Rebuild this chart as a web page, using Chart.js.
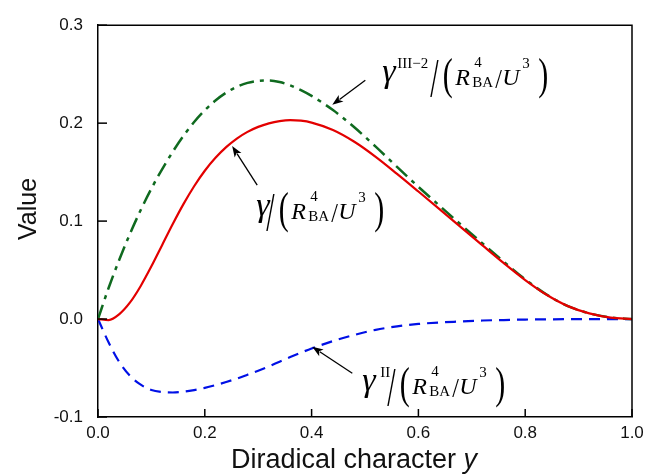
<!DOCTYPE html>
<html><head><meta charset="utf-8">
<script src="https://cdn.jsdelivr.net/npm/chart.js@4/dist/chart.umd.min.js"></script>
<style>html,body{margin:0;padding:0;background:#fff}#wrap{width:662px;height:476px}</style>
</head><body><div id="wrap"><canvas id="c" width="662" height="476"></canvas></div>
<script>
// ---- data ----
const diradicalY = [0, 0.02, 0.04, 0.06, 0.08, 0.10, 0.12, 0.14, 0.16, 0.18, 0.20, 0.22, 0.24, 0.26, 0.28, 0.30, 0.32, 0.34, 0.36, 0.38,
  0.40, 0.44, 0.48, 0.52, 0.56, 0.60, 0.64, 0.68, 0.72, 0.76, 0.80, 0.84, 0.88, 0.92, 0.96, 1.0];
const gammaTotal = [0, -0.001, 0.0051, 0.017, 0.0338, 0.0538, 0.0754, 0.097, 0.1173, 0.1356, 0.1514, 0.1646, 0.1755, 0.1843, 0.1911, 0.1962, 0.1998, 0.2021, 0.2031, 0.2025,
  0.2006, 0.193, 0.181, 0.1656, 0.1482, 0.1302, 0.112, 0.0936, 0.0752, 0.057, 0.0398, 0.0248, 0.0132, 0.0058, 0.0015, 0];
const gammaIII2 = [0, 0.032, 0.0608, 0.0872, 0.1113, 0.1332, 0.1529, 0.1708, 0.187, 0.2011, 0.2131, 0.2231, 0.2311, 0.2371, 0.2411, 0.2432, 0.2436, 0.2420, 0.2385, 0.2337,
  0.2278, 0.2134, 0.1958, 0.176, 0.1553, 0.135, 0.1155, 0.0962, 0.0772, 0.0585, 0.0405, 0.025, 0.0132, 0.0058, 0.0015, 0];
const gammaII = [0, -0.024, -0.044, -0.058, -0.067, -0.0725, -0.0745, -0.075, -0.0742, -0.0725, -0.0703, -0.0675, -0.0643, -0.0608, -0.0568, -0.0527, -0.0483, -0.0435, -0.0388, -0.0343,
  -0.030, -0.0225, -0.0162, -0.011, -0.0075, -0.005, -0.0035, -0.0025, -0.0015, -0.001, -0.0005, -0.0003, -0.0001, 0, 0, 0];
const xTickValues = [0, 0.2, 0.4, 0.6, 0.8, 1.0];
const yTickValues = [-0.1, 0, 0.1, 0.2, 0.3];
const xTitleText = 'Diradical character ';
const xTitleVar = 'y';
const yTitleText = 'Value';
const labelSuperscripts = ['III\u22122', '', 'II'];

const SANS = '"Liberation Sans", Arial, Helvetica, sans-serif';
const SERIF = '"Liberation Serif", "Times New Roman", serif';

function pts(vals) { return diradicalY.map((x, i) => ({x: x, y: vals[i]})); }

function txt(ctx, t, x, y, font, sy) {
  ctx.save(); ctx.translate(x, y); ctx.scale(1, sy || 1);
  ctx.font = font; ctx.textAlign = 'left'; ctx.textBaseline = 'alphabetic';
  ctx.fillText(t, 0, 0); ctx.restore();
}

function arrow(ctx, x0, y0, x1, y1) {
  const a = Math.atan2(y1 - y0, x1 - x0), L = 11, W = 4;
  ctx.save(); ctx.strokeStyle = '#000'; ctx.fillStyle = '#000'; ctx.lineWidth = 1.3;
  ctx.beginPath(); ctx.moveTo(x0, y0);
  ctx.lineTo(x1 - Math.cos(a) * (L - 2), y1 - Math.sin(a) * (L - 2)); ctx.stroke();
  ctx.beginPath(); ctx.moveTo(x1, y1);
  ctx.lineTo(x1 - L * Math.cos(a) + W * Math.sin(a), y1 - L * Math.sin(a) - W * Math.cos(a));
  ctx.lineTo(x1 - L * Math.cos(a) * 0.75, y1 - L * Math.sin(a) * 0.75);
  ctx.lineTo(x1 - L * Math.cos(a) - W * Math.sin(a), y1 - L * Math.sin(a) + W * Math.cos(a));
  ctx.closePath(); ctx.fill(); ctx.restore();
}

// math label: origin = gamma left x, baseline of R
function mathLabel(ctx, ox, B, sup, supDx, slashDx) {
  ctx.fillStyle = '#000';
  txt(ctx, '\u03B3', ox, B - 3, 'italic 34px ' + SERIF);
  if (sup) txt(ctx, sup, ox + supDx, B - 17, '15px ' + SERIF);
  const s = ox + slashDx;
  txt(ctx, '/', s - 1, B + 11, '30px ' + SERIF, 1.85);
  txt(ctx, '(', s + 11.5, B + 4, '30px ' + SERIF, 1.5);
  txt(ctx, 'R', s + 24, B, 'italic 24px ' + SERIF);
  txt(ctx, '4', s + 43, B - 18, '15px ' + SERIF);
  txt(ctx, 'BA', s + 41, B + 2, '15px ' + SERIF);
  txt(ctx, '/', s + 64, B + 3, '24px ' + SERIF, 1.1);
  txt(ctx, 'U', s + 71, B, 'italic 24px ' + SERIF);
  txt(ctx, '3', s + 91, B - 17, '15px ' + SERIF);
  txt(ctx, ')', s + 107, B + 4, '30px ' + SERIF, 1.5);
}

const decor = {
  id: 'decor',
  afterDraw(chart) {
    const ctx = chart.ctx, a = chart.chartArea, xs = chart.scales.x, ys = chart.scales.y;
    ctx.save();
    // frame
    ctx.strokeStyle = '#000'; ctx.lineWidth = 1.5;
    ctx.beginPath();
    ctx.moveTo(a.left, a.top); ctx.lineTo(a.right, a.top); ctx.lineTo(a.right, a.bottom);
    ctx.stroke();
    // inward ticks
    xTickValues.forEach(v => { const p = xs.getPixelForValue(v); ctx.beginPath(); ctx.moveTo(p, a.bottom); ctx.lineTo(p, a.bottom - 8); ctx.stroke(); });
    yTickValues.forEach(v => { const p = ys.getPixelForValue(v); ctx.beginPath(); ctx.moveTo(a.left, p); ctx.lineTo(a.left + 9, p); ctx.stroke(); });
    // arrows (data coordinates)
    const P = (x, y) => [xs.getPixelForValue(x), ys.getPixelForValue(y)];
    let s, t;
    s = P(0.5006, 0.2437); t = P(0.4387, 0.2187); arrow(ctx, s[0], s[1], t[0], t[1]);
    s = P(0.2981, 0.1367); t = P(0.2512, 0.1767); arrow(ctx, s[0], s[1], t[0], t[1]);
    s = P(0.4762, -0.0553); t = P(0.4012, -0.0283); arrow(ctx, s[0], s[1], t[0], t[1]);
    // labels
    let o;
    o = P(0.5325, 0.2387); mathLabel(ctx, o[0], o[1], labelSuperscripts[0], 15, 49);
    o = P(0.2962, 0.1017); mathLabel(ctx, o[0], o[1], labelSuperscripts[1], 0, 11);
    o = P(0.4949, -0.0763); mathLabel(ctx, o[0], o[1], labelSuperscripts[2], 18, 26);
    // axis titles
    ctx.fillStyle = '#111';
    const FS = 27;
    ctx.font = FS + 'px ' + SANS;
    const w1 = ctx.measureText(xTitleText).width;
    ctx.font = 'italic ' + FS + 'px ' + SANS;
    const w2 = ctx.measureText(xTitleVar).width;
    const cx = 354;
    const x0 = cx - (w1 + w2) / 2;
    ctx.textBaseline = 'alphabetic'; ctx.textAlign = 'left';
    ctx.font = FS + 'px ' + SANS; ctx.fillText(xTitleText, x0, 468);
    ctx.font = 'italic ' + FS + 'px ' + SANS; ctx.fillText(xTitleVar, x0 + w1, 468);
    ctx.save();
    ctx.translate(36, 209);
    ctx.rotate(-Math.PI / 2);
    ctx.textAlign = 'center'; ctx.font = '25px ' + SANS;
    ctx.fillText(yTitleText, 0, 0);
    ctx.restore();
    ctx.restore();
  }
};

new Chart(document.getElementById('c'), {
  type: 'line',
  data: {
    datasets: [
      {label: 'gamma', data: pts(gammaTotal), borderColor: '#e30000', borderWidth: 2.2, borderDash: []},
      {label: 'gammaIII-2', data: pts(gammaIII2), borderColor: '#0f6a1f', borderWidth: 2.5, borderDash: [15, 6, 4, 6]},
      {label: 'gammaII', data: pts(gammaII), borderColor: '#0010e6', borderWidth: 2.2, borderDash: [11, 7]}
    ]
  },
  options: {
    responsive: false, animation: false, devicePixelRatio: 1,
    layout: {padding: {left: 0, top: 16, right: 30, bottom: 0}},
    elements: {point: {radius: 0}, line: {cubicInterpolationMode: 'monotone', fill: false}},
    plugins: {legend: {display: false}, tooltip: {enabled: false}},
    scales: {
      x: {
        type: 'linear', min: 0, max: 1,
        afterBuildTicks: s => { s.ticks = xTickValues.map(v => ({value: v})); },
        afterFit: s => { s.height = 59; },
        ticks: {callback: v => Number(v).toFixed(1), font: {family: SANS, size: 17}, color: '#111', padding: 6, maxRotation: 0, autoSkip: false},
        grid: {display: false, drawTicks: false},
        border: {display: true, color: '#000', width: 1.5}
      },
      y: {
        type: 'linear', min: -0.1, max: 0.3,
        afterBuildTicks: s => { s.ticks = yTickValues.map(v => ({value: v})); },
        afterFit: s => { s.width = 98; },
        ticks: {callback: v => Number(v).toFixed(1), font: {family: SANS, size: 17}, color: '#111', padding: 15, autoSkip: false},
        grid: {display: false, drawTicks: false},
        border: {display: true, color: '#000', width: 1.5}
      }
    }
  },
  plugins: [decor]
});
</script></body></html>
